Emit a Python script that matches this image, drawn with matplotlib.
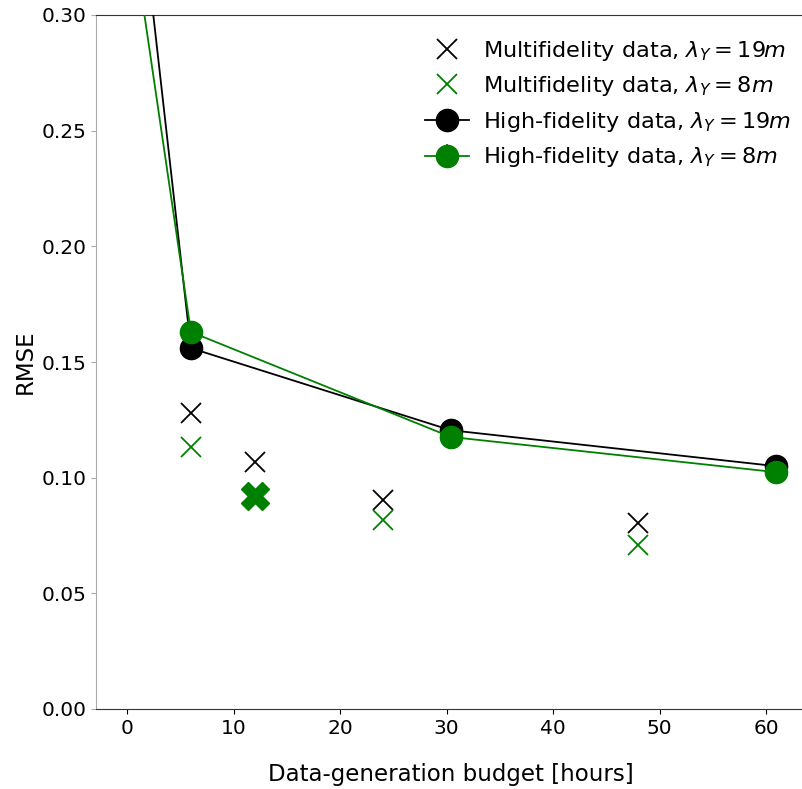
import matplotlib
matplotlib.use("Agg")
import matplotlib.pyplot as plt

# High-fidelity data
hf_x = [1.0, 6.0, 30.4, 60.9]
hf_19 = [0.36, 0.156, 0.1205, 0.105]
hf_8 = [0.32, 0.163, 0.1176, 0.1024]
hf_err = [0.001, 0.001, 0.001, 0.001]

# Multifidelity data
mf19_x = [6.0, 12.0, 24.0, 48.0]
mf_19 = [0.128, 0.1068, 0.0905, 0.0805]
mf8_x = [6.0, 24.0, 48.0]
mf_8 = [0.1133, 0.0817, 0.0709]
best_x = [12.0]
best_8 = [0.092]

labels = [r"Multifidelity data, $\lambda_Y=19m$",
          r"Multifidelity data, $\lambda_Y=8m$",
          r"High-fidelity data, $\lambda_Y=19m$",
          r"High-fidelity data, $\lambda_Y=8m$"]

fig = plt.figure(figsize=(8.02, 7.89), dpi=100)
ax = fig.add_axes([96/802, 80/789, 710/802, 694/789])

m1, = ax.plot(mf19_x, mf_19, linestyle='none', marker='x', color='black',
              markersize=15, markeredgewidth=1.3, label=labels[0], zorder=3)
m2, = ax.plot(mf8_x, mf_8, linestyle='none', marker='x', color='green',
              markersize=14, markeredgewidth=1.3, label=labels[1], zorder=3)
ax.plot(best_x, best_8, linestyle='none', marker='X', color='green',
        markersize=20, zorder=4)
e1 = ax.errorbar(hf_x, hf_19, yerr=hf_err, color='black', marker='o',
                 markersize=16, linewidth=1.3, label=labels[2], zorder=5)
e2 = ax.errorbar(hf_x, hf_8, yerr=hf_err, color='green', marker='o',
                 markersize=16, linewidth=1.3, label=labels[3], zorder=6)

ax.set_xlim(-2.91, 63.75)
ax.set_ylim(0, 0.30)
ax.set_xticks([0, 10, 20, 30, 40, 50, 60])
ax.set_yticks([0.0, 0.05, 0.10, 0.15, 0.20, 0.25, 0.30])
ax.set_yticklabels(["0.00", "0.05", "0.10", "0.15", "0.20", "0.25", "0.30"])
ax.tick_params(labelsize=14.5)
ax.tick_params(axis='y', color='#aaaaaa')

ax.spines['left'].set_color('#aaaaaa')
ax.spines['top'].set_color('#333333')
ax.spines['bottom'].set_color('#333333')
ax.spines['right'].set_visible(False)

ax.set_xlabel("Data-generation budget [hours]", fontsize=16.5, labelpad=18)
ax.set_ylabel("RMSE", fontsize=16.5, labelpad=3)

ax.legend(handles=[m1, m2, e1, e2], loc='upper right', frameon=False,
          fontsize=16.1, bbox_to_anchor=(1.006, 0.995), handletextpad=0.6,
          labelspacing=0.52)

fig.savefig("out.png", dpi=100)
